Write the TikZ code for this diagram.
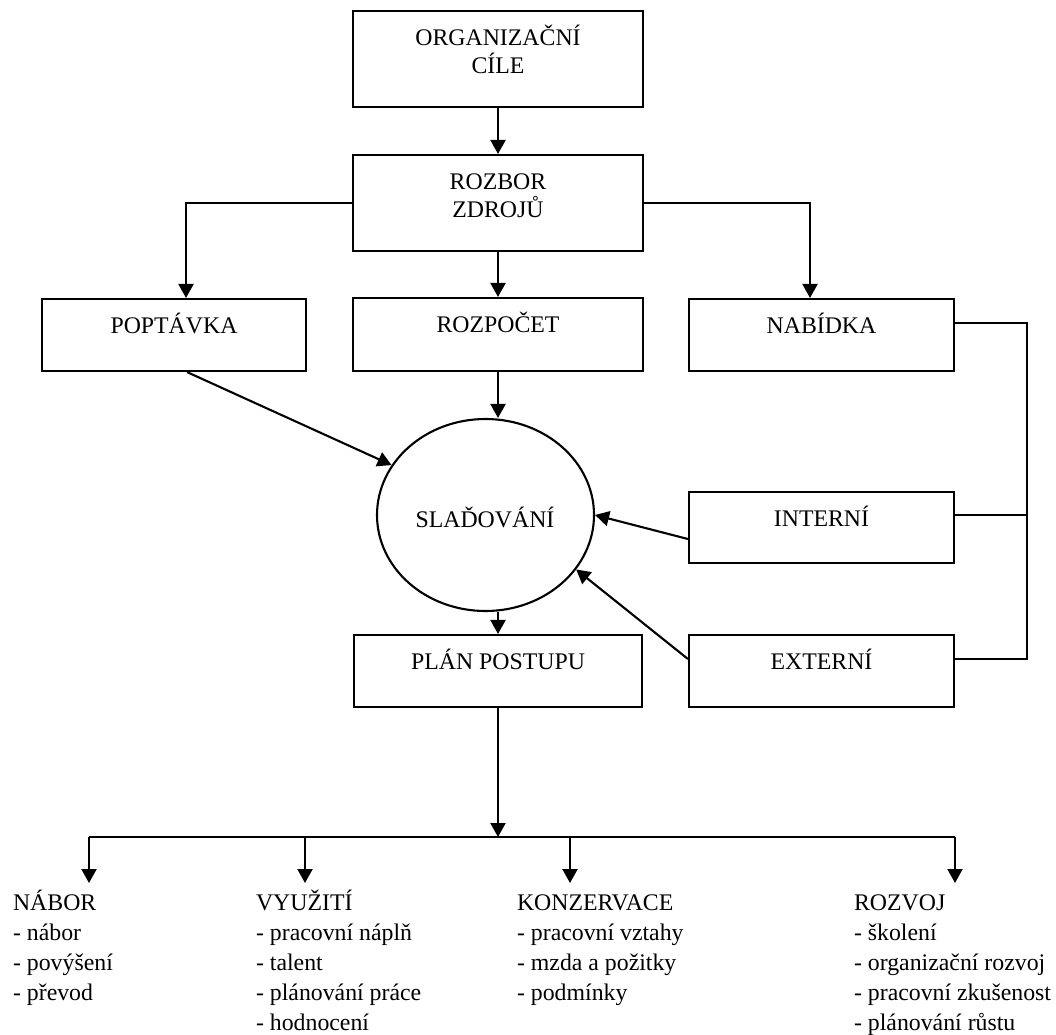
\documentclass[tikz,border=0pt]{standalone}
\usepackage{fontspec}
\setmainfont{Liberation Serif}
\usetikzlibrary{arrows.meta,shapes.geometric,calc}

% two centred lines, baseline on the first one
\newcommand\twolines[2]{\vtop{\halign{\hfil##\hfil\cr#1\cr#2\cr}}}
% left-aligned list, baseline on the heading
\newcommand\itemlist[1]{\vtop{\baselineskip=30pt\relax#1}}

\begin{document}
\begin{tikzpicture}[x=1pt,y=-1pt,
  line width=2.1pt,
  box/.style={draw, rectangle, inner sep=0pt, line width=2.1pt},
  oval/.style={draw, ellipse, inner sep=0pt, line width=2.1pt},
  lbl/.style={anchor=base, inner sep=0pt, font=\fontsize{23.8}{28}\selectfont},
  col/.style={anchor=base west, inner sep=0pt, font=\fontsize{23.8}{30}\selectfont},
  conn/.style={-{Triangle[length=14pt,width=15pt]}, line width=2.1pt},
  wire/.style={line width=2.1pt}]

\useasboundingbox (0,0) rectangle (1056,1034);

% boxes
\node[box, minimum width=290pt, minimum height=96pt] (org)  at (498,59)    {};
\node[box, minimum width=290pt, minimum height=96pt] (roz)  at (498,203)   {};
\node[box, minimum width=264pt, minimum height=72pt] (pop)  at (174,335)   {};
\node[box, minimum width=290pt, minimum height=73pt] (rpc)  at (498,334.5) {};
\node[box, minimum width=265pt, minimum height=72pt] (nab)  at (821.5,335) {};
\node[oval, minimum width=217pt, minimum height=192pt] (sla) at (485.5,515) {};
\node[box, minimum width=265pt, minimum height=71pt] (int)  at (821.5,527.5) {};
\node[box, minimum width=265pt, minimum height=72pt] (ext)  at (821.5,671) {};
\node[box, minimum width=288pt, minimum height=72pt] (plan) at (498,671)   {};

% box texts
\node[lbl] (orgT)  at (498,45)    {\twolines{ORGANIZAČNÍ}{CÍLE}};
\node[lbl] (rozT)  at (498,189)   {\twolines{ROZBOR}{ZDROJŮ}};
\node[lbl] (popT)  at (174,333)   {POPTÁVKA};
\node[lbl] (rpcT)  at (498,332)   {ROZPOČET};
\node[lbl] (nabT)  at (821.5,333) {NABÍDKA};
\node[lbl] (slaT)  at (485,527)   {SLAĎOVÁNÍ};
\node[lbl] (intT)  at (821.5,526) {INTERNÍ};
\node[lbl] (extT)  at (821.5,669) {EXTERNÍ};
\node[lbl] (planT) at (498,669)   {PLÁN POSTUPU};

% top flow
\draw[conn] (org.south) -- (roz.north);
\draw[conn] (roz.west) -| ($(pop.north)+(12,0)$);
\draw[conn] (roz.east) -| ($(nab.north)+(-11.5,0)$);
\draw[conn] (roz.south) -- (rpc.north);

% into the matching step
\draw[conn] (rpc.south) -- (sla.north -| rpc.south);
\draw[conn] ($(pop.south)+(13,0)$) -- (sla.152);
\draw[conn] ($(int.west)+(0,11.5)$) -- (sla.east);
\draw[conn] ($(ext.west)+(0,-12)$) -- (sla.329);
\draw[conn] (sla.south -| plan.north) -- (plan.north);

% supply rail
\coordinate (railtop) at ($(nab.east)+(72,-12)$);
\coordinate (railbot) at ($(ext.east)+(72,-12)$);
\draw[wire] ($(nab.east)+(0,-12)$) -- (railtop) -- (railbot) -- ($(ext.east)+(0,-12)$);
\draw[wire] ($(int.east)+(0,-12.5)$) -- ++(72,0);

% distribution to the four areas
\coordinate (hub) at (498,837);
\coordinate (b1) at (89,837);
\coordinate (b2) at (305,837);
\coordinate (b3) at (570,837);
\coordinate (b4) at (955,837);
\coordinate (t1) at (89,883);
\coordinate (t2) at (305,883);
\coordinate (t3) at (570,883);
\coordinate (t4) at (955,883);
\draw[conn] (plan.south) -- (hub);
\draw[wire] (b1) -- (b4);
\draw[conn] (b1) -- (t1);
\draw[conn] (b2) -- (t2);
\draw[conn] (b3) -- (t3);
\draw[conn] (b4) -- (t4);

% lists
\node[col] (nabor) at (12,910)  {\itemlist{\hbox{NÁBOR}\hbox{- nábor}\hbox{- povýšení}\hbox{- převod}}};
\node[col] (vyuz)  at (255,910) {\itemlist{\hbox{VYUŽITÍ}\hbox{- pracovní náplň}\hbox{- talent}\hbox{- plánování práce}\hbox{- hodnocení}}};
\node[col] (kons)  at (516,910) {\itemlist{\hbox{KONZERVACE}\hbox{- pracovní vztahy}\hbox{- mzda a požitky}\hbox{- podmínky}}};
\node[col] (rozv)  at (853,910) {\itemlist{\hbox{ROZVOJ}\hbox{- školení}\hbox{- organizační rozvoj}\hbox{- pracovní zkušenost}\hbox{- plánování růstu}}};

\end{tikzpicture}
\end{document}
